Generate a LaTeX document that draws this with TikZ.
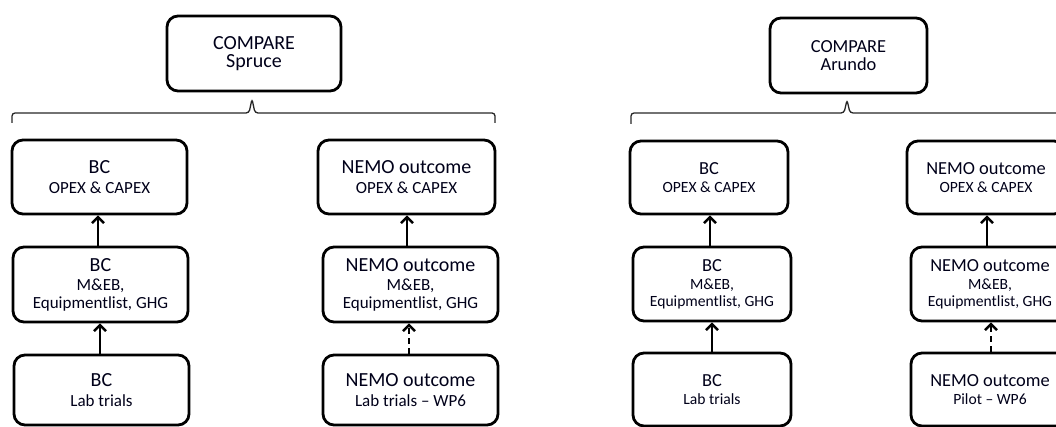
\documentclass[tikz,border=0pt]{standalone}
\usepackage{fontspec}
\setmainfont{Carlito}
\usetikzlibrary{arrows.meta}
\tikzset{
  box/.style={draw=black, line width=2.8pt, rounded corners=11pt, align=center,
    inner sep=0pt, font=\fontsize{17}{17.5}\selectfont, text=black!90!blue},
  rbox/.style={box, font=\fontsize{15.6}{16.5}\selectfont},
  link/.style={line width=2.6pt, -{Straight Barb[length=6pt,width=12pt,line width=2.4pt]}},
  dlink/.style={link, dash pattern=on 6pt off 4pt},
  brace/.style={line width=1.3pt, draw=black!85, rounded corners=3pt}
}
\newcommand\hd[1]{{\fontsize{20}{21}\selectfont #1}}
\newcommand\rhead[1]{{\fontsize{18.4}{19.5}\selectfont #1}}
\begin{document}
\begin{tikzpicture}[x=1pt,y=-1pt]
\useasboundingbox (0,0) rectangle (1056,427);
\clip (0,0) rectangle (1056,427);
% ---------- left panel ----------
\node[box, minimum width=174pt, minimum height=75pt] (Lcmp) at (254,53.5) {\hd{COMPARE}\\[1pt]\hd{Spruce}};
\draw[brace] (12,123) -- (12,113) -- (249,113) -- (252,99) -- (255,113) -- (495,113) -- (495,123);
\node[box, minimum width=175pt, minimum height=74pt] (Lbc1) at (99.5,177) {\hd{BC}\\[2pt]OPEX \& CAPEX};
\node[box, minimum width=177pt, minimum height=74pt] (Lnm1) at (406.5,177) {\hd{NEMO outcome}\\[2pt]OPEX \& CAPEX};
\node[box, minimum width=175pt, minimum height=75pt] (Lbc2) at (100.5,284.5) {\hd{BC}\\[2pt]M\&EB,\\Equipmentlist, GHG};
\node[box, minimum width=175pt, minimum height=75pt] (Lnm2) at (410.5,284.5) {\hd{NEMO outcome}\\[2pt]M\&EB,\\Equipmentlist, GHG};
\node[box, minimum width=175pt, minimum height=70pt] (Lbc3) at (101.5,390) {\hd{BC}\\[2pt]Lab trials};
\node[box, minimum width=175pt, minimum height=70pt] (Lnm3) at (410.5,390) {\hd{NEMO outcome}\\[2pt]Lab trials -- WP6};
\draw[link] (Lbc2.north -| 98,0) -- (Lbc1.south -| 98,0);
\draw[link] (Lbc3.north -| 100,0) -- (Lbc2.south -| 100,0);
\draw[link] (Lnm2.north -| 407,0) -- (Lnm1.south -| 407,0);
\draw[dlink] (Lnm3.north -| 409,0) -- (Lnm2.south -| 409,0);
% ---------- right panel ----------
\node[rbox, minimum width=157pt, minimum height=75pt] (Rcmp) at (848.5,55.5) {\rhead{COMPARE}\\[1pt]\rhead{Arundo}};
\draw[brace] (631,124) -- (631,113) -- (844,113) -- (847,100) -- (850,113) -- (1063,113) -- (1063,124);
\node[rbox, minimum width=158pt, minimum height=73pt] (Rbc1) at (709,177.5) {\rhead{BC}\\[2pt]OPEX \& CAPEX};
\node[rbox, minimum width=158pt, minimum height=73pt] (Rnm1) at (986,177.5) {\rhead{NEMO outcome}\\[2pt]OPEX \& CAPEX};
\node[rbox, minimum width=158pt, minimum height=74pt] (Rbc2) at (712,284) {\rhead{BC}\\[2pt]M\&EB,\\Equipmentlist, GHG};
\node[rbox, minimum width=158pt, minimum height=74pt] (Rnm2) at (990,284) {\rhead{NEMO outcome}\\[2pt]M\&EB,\\Equipmentlist, GHG};
\node[rbox, minimum width=158pt, minimum height=73pt] (Rbc3) at (712,389.5) {\rhead{BC}\\[2pt]Lab trials};
\node[rbox, minimum width=158pt, minimum height=73pt] (Rnm3) at (990,389.5) {\rhead{NEMO outcome}\\[2pt]Pilot -- WP6};
\draw[link] (Rbc2.north -| 710,0) -- (Rbc1.south -| 710,0);
\draw[link] (Rbc3.north -| 712,0) -- (Rbc2.south -| 712,0);
\draw[link] (Rnm2.north -| 987,0) -- (Rnm1.south -| 987,0);
\draw[dlink] (Rnm3.north -| 991,0) -- (Rnm2.south -| 991,0);
\end{tikzpicture}
\end{document}
